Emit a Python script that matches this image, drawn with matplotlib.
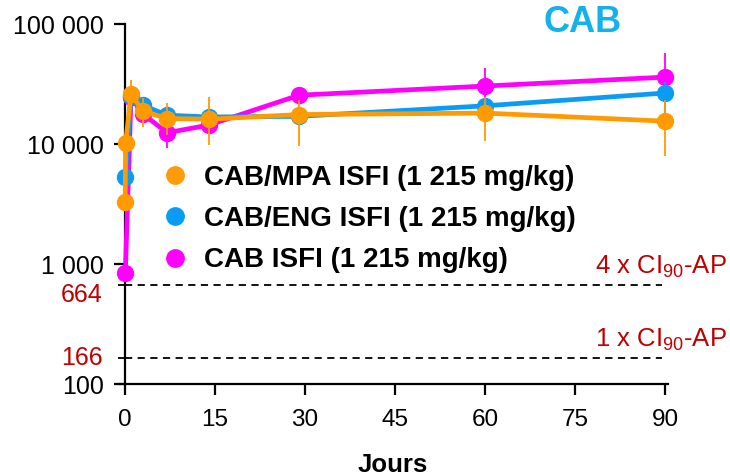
import numpy as np
import matplotlib
matplotlib.use("Agg")
import matplotlib.pyplot as plt
from matplotlib.ticker import FixedLocator, FuncFormatter, NullFormatter
from matplotlib.lines import Line2D

plt.rcParams['font.family'] = ['Liberation Sans', 'DejaVu Sans']
plt.rcParams['mathtext.fontset'] = 'custom'
plt.rcParams['mathtext.rm'] = 'Liberation Sans'

# CAB/MPA ISFI
mpa_days = [0.02, 0.1, 1, 3, 7, 14, 29, 60, 90]
mpa_conc = [3300, 10200, 26000, 18800, 16300, 16100, 17600, 18100, 15500]
mpa_lo = [3300, 10200, 20000, 13900, 11900, 9800, 9600, 10600, 7900]
mpa_hi = [3300, 10200, 34000, 24000, 22000, 24600, 23300, 24600, 23300]

# CAB/ENG ISFI
eng_days = [0.05, 1, 3, 7, 14, 29, 60, 90]
eng_conc = [5300, 25000, 21000, 17400, 16800, 17000, 20800, 26600]
eng_lo = [5300, 22000, 18500, 15500, 15000, 15000, 18500, 17400]
eng_hi = [5300, 28000, 23500, 19500, 19000, 19000, 23500, 33000]

# CAB ISFI
cab_days = [0.05, 1, 3, 7, 14, 29, 60, 90]
cab_conc = [840, 24600, 17800, 12400, 14400, 25500, 30400, 36100]
cab_lo = [840, 22000, 15500, 9300, 12000, 22000, 21500, 22800]
cab_hi = [840, 27000, 20000, 16000, 17000, 30000, 43000, 57400]

series_labels = ["CAB/MPA ISFI (1 215 mg/kg)", "CAB/ENG ISFI (1 215 mg/kg)", "CAB ISFI (1 215 mg/kg)"]
series_colors = ["#FF9A00", "#0A9CF5", "#FF00FF"]

ref_levels = [664, 166]
ref_labels = ["4 x CI$_{90}$-AP", "1 x CI$_{90}$-AP"]
x_ticks = [0, 15, 30, 45, 60, 75, 90]
y_ticks = [100, 1000, 10000, 100000]

red = "#C00000"

fig = plt.figure(figsize=(7.3, 4.76), dpi=100)
ax = fig.add_axes([118/730, 92/476, 550/730, 360/476])

series = [(cab_days, cab_conc, cab_lo, cab_hi, 2),
          (eng_days, eng_conc, eng_lo, eng_hi, 1),
          (mpa_days, mpa_conc, mpa_lo, mpa_hi, 0)]
for days, conc, lo, hi, i in series:
    conc = np.array(conc)
    yerr = [conc - np.array(lo), np.array(hi) - conc]
    ax.errorbar(days, conc, yerr=yerr, color=series_colors[i], lw=3.4,
                marker='o', ms=11.5, elinewidth=1.3, capsize=0,
                clip_on=False, zorder=3 + (2 - i))

ax.set_yscale('log')
ax.set_ylim(100, 100000)
ax.set_xlim(-1.17, 90.5)

for s in ['top', 'right']:
    ax.spines[s].set_visible(False)
ax.spines['left'].set_position(('data', 0))
ax.spines['left'].set_linewidth(1.6)
ax.spines['bottom'].set_linewidth(1.6)

ax.yaxis.set_major_locator(FixedLocator(y_ticks))
ax.yaxis.set_major_formatter(FuncFormatter(lambda v, p: f"{int(v):,}".replace(",", " ")))
ax.yaxis.set_minor_locator(FixedLocator(ref_levels))
ax.yaxis.set_minor_formatter(NullFormatter())
ax.set_xticks(x_ticks)

ax.tick_params(axis='both', which='major', direction='out', length=8, width=1.6,
               labelsize=18, pad=7)
ax.tick_params(axis='x', which='major', labelsize=17.5, pad=10)
ax.tick_params(axis='y', which='minor', direction='out', length=5, width=1.3)

# reference lines
ax.hlines(ref_levels, 0, 89.5, colors='black', linestyles=(0, (4, 3)), lw=1.3, zorder=1)
ytrans = ax.get_yaxis_transform()
for lvl, lab, dy in zip(ref_levels, ref_labels, [-7, 0]):
    ax.annotate(f"{lvl}", xy=(0, lvl), xycoords='data', xytext=(-16, dy),
                textcoords='offset points', ha='right', va='center',
                color=red, fontsize=18, annotation_clip=False)
    ax.text(1.107, lvl * 1.1, lab, transform=ytrans, ha='right', va='bottom',
            color=red, fontsize=18.5, clip_on=False)

ax.set_xlabel("Jours", fontsize=18.5, fontweight='bold', labelpad=16)

handles = [Line2D([], [], color=series_colors[i], marker='o', ms=12.5, lw=0)
           for i in range(3)]
ax.legend(handles, series_labels, loc='upper left', bbox_to_anchor=(0.058, 0.64),
          frameon=False, prop={'weight': 'bold', 'size': 20},
          handlelength=1.0, handletextpad=0.55, labelspacing=0.55, borderaxespad=0)

fig.text(583/730, 1 - 22/476, "CAB", ha='center', va='center', color='#14B1EE',
         fontsize=26, fontweight='bold')

fig.savefig("out.png", dpi=100)
